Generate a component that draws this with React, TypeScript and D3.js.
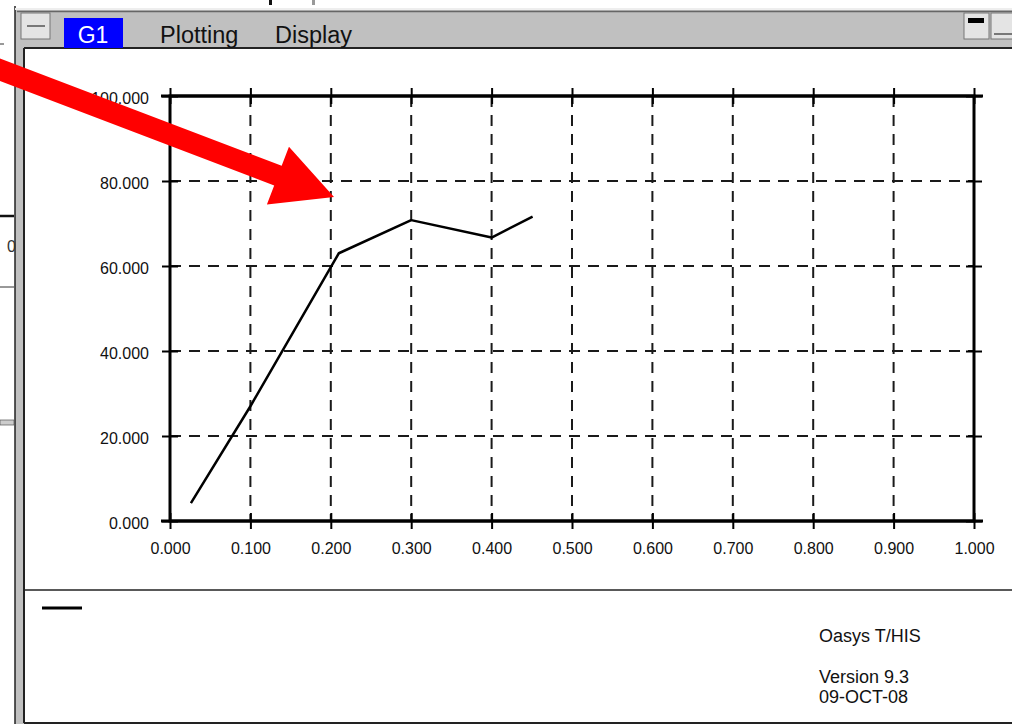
import React, { useRef, useEffect } from 'react';
import * as d3 from 'd3';

// curve
const xValues = [0.026, 0.1, 0.21, 0.3, 0.4, 0.451];
const yValues = [4.2, 27.0, 63.0, 70.8, 66.7, 71.6];

const xTicks = [0, 0.1, 0.2, 0.3, 0.4, 0.5, 0.6, 0.7, 0.8, 0.9, 1.0];
const yTicks = [0, 20, 40, 60, 80, 100];

const menuItems = ['Plotting', 'Display'];
const footerLines = ['Oasys T/HIS', 'Version 9.3', '09-OCT-08'];

const W = 1012;
const H = 728;
const FONT = '"Liberation Sans", Arial, sans-serif';

function App() {
	const svgRef = useRef<SVGSVGElement>(null);

	useEffect(() => {
		const svg = d3.select(svgRef.current);
		svg.selectAll('*').remove();

		const left = 170, right = 974, top = 96, bottom = 521;
		const x = d3.scaleLinear().domain([0, 1]).range([left, right]);
		const y = d3.scaleLinear().domain([0, 100]).range([bottom, top]);

		// window chrome
		svg.append('rect').attr('width', W).attr('height', H).attr('fill', '#fff');
		svg.append('rect').attr('x', 15).attr('y', 8).attr('width', W - 15).attr('height', 716).attr('fill', '#c0c0c0');
		svg.append('line').attr('x1', 15).attr('x2', 15).attr('y1', 6).attr('y2', 724).attr('stroke', '#222').attr('stroke-width', 1.5);
		svg.append('line').attr('x1', 15).attr('x2', W).attr('y1', 9).attr('y2', 9).attr('stroke', '#eee').attr('stroke-width', 2);
		svg.append('line').attr('x1', 17).attr('x2', W).attr('y1', 11.5).attr('y2', 11.5).attr('stroke', '#666').attr('stroke-width', 1.5);
		svg.append('rect').attr('x', 24).attr('y', 48).attr('width', W - 24).attr('height', 674).attr('fill', '#fff');
		svg.append('line').attr('x1', 24).attr('x2', W).attr('y1', 48).attr('y2', 48).attr('stroke', '#222').attr('stroke-width', 2);
		svg.append('line').attr('x1', 24).attr('x2', 24).attr('y1', 48).attr('y2', 723).attr('stroke', '#222').attr('stroke-width', 2);
		svg.append('line').attr('x1', 24).attr('x2', W).attr('y1', 723).attr('y2', 723).attr('stroke', '#222').attr('stroke-width', 2);
		svg.append('line').attr('x1', 24).attr('x2', W).attr('y1', 590).attr('y2', 590).attr('stroke', '#222').attr('stroke-width', 1.5);

		// system buttons
		svg.append('rect').attr('x', 21).attr('y', 13).attr('width', 29).attr('height', 26).attr('fill', '#e4e4e4').attr('stroke', '#777');
		svg.append('line').attr('x1', 27).attr('x2', 45).attr('y1', 26).attr('y2', 26).attr('stroke', '#555').attr('stroke-width', 1.5);
		svg.append('rect').attr('x', 964).attr('y', 13).attr('width', 25).attr('height', 26).attr('fill', '#e4e4e4').attr('stroke', '#777');
		svg.append('rect').attr('x', 968).attr('y', 18).attr('width', 16).attr('height', 5).attr('fill', '#000');
		svg.append('rect').attr('x', 991).attr('y', 13).attr('width', 25).attr('height', 26).attr('fill', '#e4e4e4').attr('stroke', '#777');
		svg.append('line').attr('x1', 994).attr('x2', W).attr('y1', 34).attr('y2', 34).attr('stroke', '#555').attr('stroke-width', 1.5);

		// menu bar
		svg.append('rect').attr('x', 64).attr('y', 18).attr('width', 59).attr('height', 30).attr('fill', '#0000ff');
		svg.append('text').attr('x', 93).attr('y', 43).attr('text-anchor', 'middle').attr('fill', '#fff')
			.style('font', `23px ${FONT}`).text('G1');
		svg.selectAll('.menu').data(menuItems).join('text')
			.attr('class', 'menu')
			.attr('x', (_, i) => [160, 275][i]).attr('y', 43)
			.attr('fill', '#111').style('font', `23.5px ${FONT}`)
			.text((d) => d);

		// things behind the window on the left
		svg.append('line').attr('x1', 0).attr('x2', 14).attr('y1', 216).attr('y2', 216).attr('stroke', '#111').attr('stroke-width', 2.5);
		svg.append('line').attr('x1', 0).attr('x2', 14).attr('y1', 287).attr('y2', 287).attr('stroke', '#333').attr('stroke-width', 1);
		svg.append('text').attr('x', 7).attr('y', 252).attr('fill', '#333').style('font', `16px ${FONT}`).text('0');
		svg.append('rect').attr('x', 0).attr('y', 420).attr('width', 14).attr('height', 5).attr('fill', '#ccc').attr('stroke', '#555').attr('stroke-width', 0.7);
		svg.append('line').attr('x1', 0).attr('x2', 4).attr('y1', 44).attr('y2', 44).attr('stroke', '#333');
		svg.append('rect').attr('x', 269).attr('y', 0).attr('width', 3).attr('height', 5).attr('fill', '#111');
		svg.append('rect').attr('x', 312).attr('y', 0).attr('width', 3).attr('height', 5).attr('fill', '#999');

		// dashed grid
		const grid = svg.append('g').attr('stroke', '#1a1a1a').attr('stroke-width', 2).attr('stroke-dasharray', '11,8');
		grid.selectAll('.gx').data(xTicks.slice(1, -1)).join('line')
			.attr('x1', (d) => x(d)).attr('x2', (d) => x(d)).attr('y1', top).attr('y2', bottom);
		grid.selectAll('.gy').data(yTicks.slice(1, -1)).join('line')
			.attr('x1', left).attr('x2', right).attr('y1', (d) => y(d)).attr('y2', (d) => y(d));

		// axes with ticks crossing the frame
		const tickLen = 8;
		const fmt = d3.format('.3f');
		const drawAxis = (g: any) => {
			g.select('.domain').remove();
			g.selectAll('line').attr('stroke', '#000').attr('stroke-width', 2);
			g.selectAll('text').attr('fill', '#111').style('font', `16px ${FONT}`);
		};
		const xb = svg.append('g').attr('transform', `translate(0,${bottom})`)
			.call(d3.axisBottom(x).tickValues(xTicks).tickFormat(fmt).tickSize(tickLen).tickPadding(14));
		drawAxis(xb);
		xb.selectAll('line').attr('y1', -tickLen);
		const xt = svg.append('g').attr('transform', `translate(0,${top})`)
			.call(d3.axisTop(x).tickValues(xTicks).tickFormat(() => '').tickSize(tickLen));
		drawAxis(xt);
		xt.selectAll('line').attr('y1', tickLen);
		const yl = svg.append('g').attr('transform', `translate(${left},0)`)
			.call(d3.axisLeft(y).tickValues(yTicks).tickFormat(fmt).tickSize(tickLen).tickPadding(13));
		drawAxis(yl);
		yl.selectAll('line').attr('x1', tickLen);
		yl.selectAll('text').attr('dy', '0.45em');
		const yr = svg.append('g').attr('transform', `translate(${right},0)`)
			.call(d3.axisRight(y).tickValues(yTicks).tickFormat(() => '').tickSize(tickLen));
		drawAxis(yr);
		yr.selectAll('line').attr('x1', -tickLen);

		// frame
		svg.append('rect').attr('x', left).attr('y', top).attr('width', right - left).attr('height', bottom - top)
			.attr('fill', 'none').attr('stroke', '#000').attr('stroke-width', 3);
		svg.append('line').attr('x1', left - 9).attr('x2', right + 9).attr('y1', bottom).attr('y2', bottom).attr('stroke', '#000').attr('stroke-width', 3);
		svg.append('line').attr('x1', left - 9).attr('x2', right + 9).attr('y1', top).attr('y2', top).attr('stroke', '#000').attr('stroke-width', 3);

		// curve
		const pts = xValues.map((v, i) => [v, yValues[i]] as [number, number]);
		svg.append('path').datum(pts)
			.attr('fill', 'none').attr('stroke', '#000').attr('stroke-width', 2.5)
			.attr('stroke-linejoin', 'round')
			.attr('d', d3.line<[number, number]>().x((d) => x(d[0])).y((d) => y(d[1])));

		// legend / footer
		svg.append('line').attr('x1', 42).attr('x2', 82).attr('y1', 608).attr('y2', 608).attr('stroke', '#000').attr('stroke-width', 3);
		svg.selectAll('.foot').data(footerLines).join('text')
			.attr('class', 'foot')
			.attr('x', 819).attr('y', (_, i) => [642, 683, 703][i])
			.attr('fill', '#111').style('font', `18px ${FONT}`)
			.text((d) => d);

		// red arrow over everything
		const tip: [number, number] = [334, 197];
		const tail: [number, number] = [-10, 66];
		const ang = Math.atan2(tip[1] - tail[1], tip[0] - tail[0]);
		const headLen = 60, headW = 31, shaftW = 10.5;
		const ux = Math.cos(ang), uy = Math.sin(ang), nx = -uy, ny = ux;
		const bx = tip[0] - ux * headLen, by = tip[1] - uy * headLen;
		const arrow = [
			[tail[0] + nx * shaftW, tail[1] + ny * shaftW],
			[bx + nx * shaftW, by + ny * shaftW],
			[bx + nx * headW, by + ny * headW],
			tip,
			[bx - nx * headW, by - ny * headW],
			[bx - nx * shaftW, by - ny * shaftW],
			[tail[0] - nx * shaftW, tail[1] - ny * shaftW],
		];
		svg.append('polygon').attr('points', arrow.map((p) => p.join(',')).join(' ')).attr('fill', '#ff0000');
	}, []);

	return (
		<svg ref={svgRef} width={W} height={H} style={{ position: 'absolute', left: 0, top: 0 }} />
	);
}

export default App;
